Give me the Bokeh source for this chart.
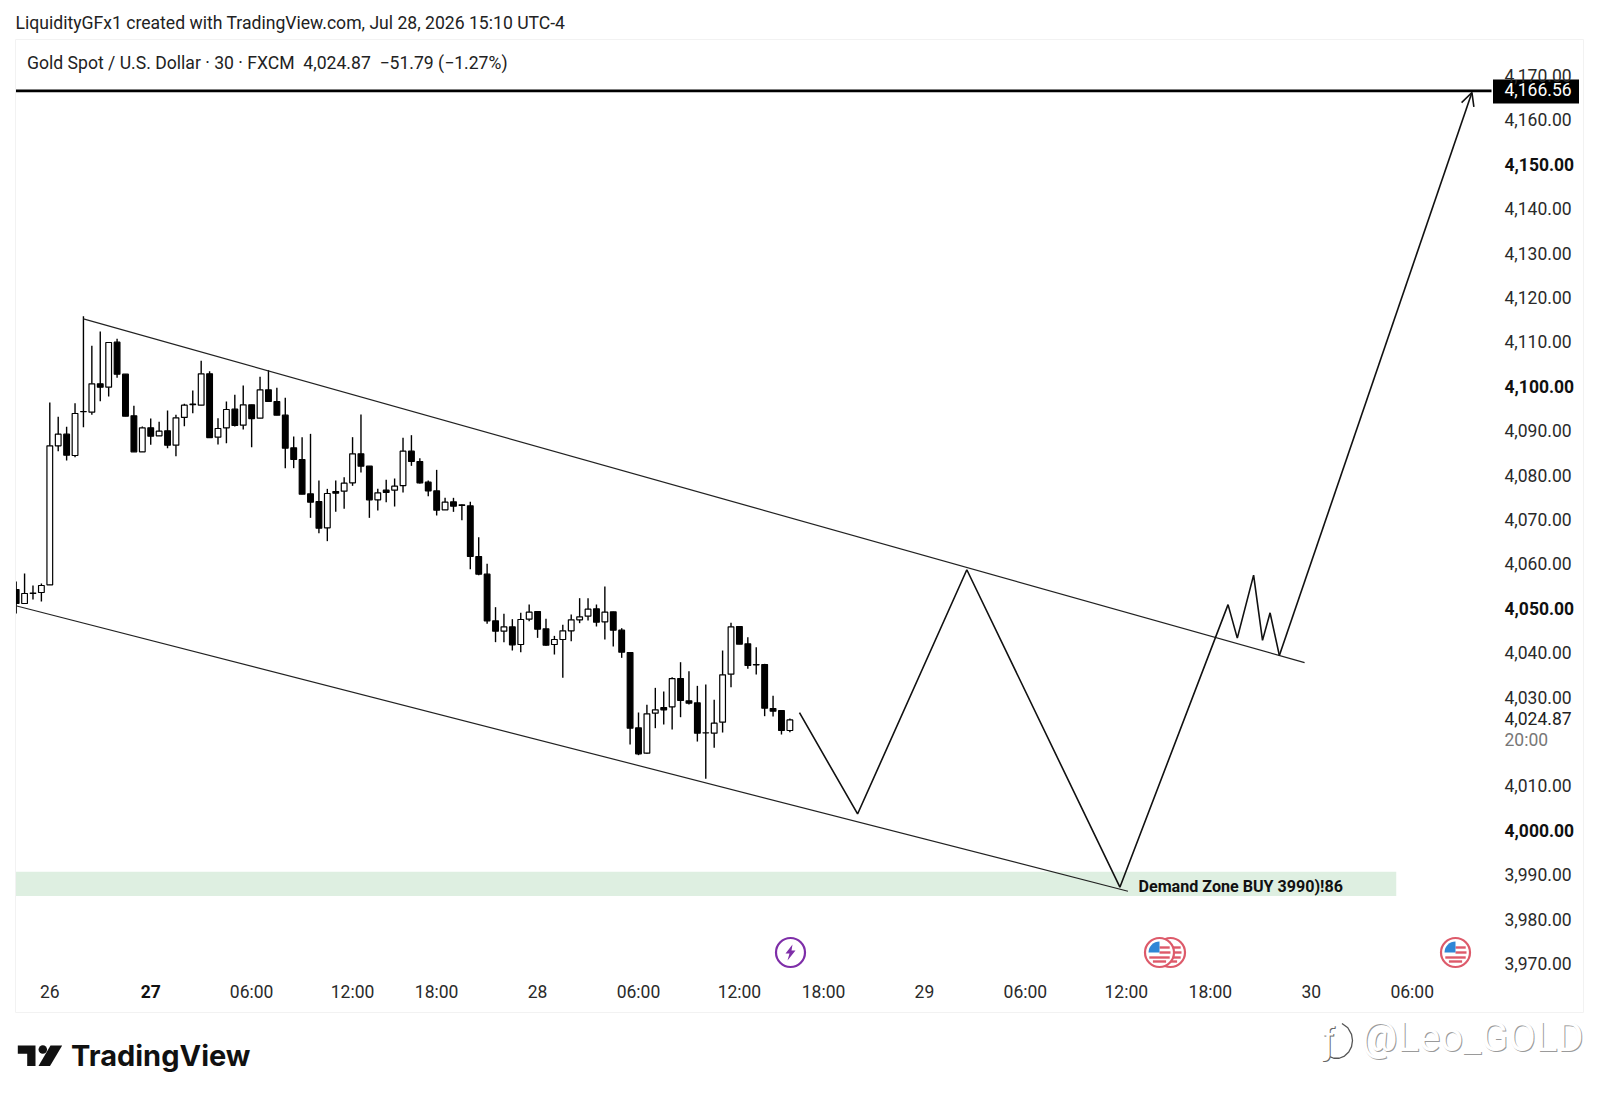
from bokeh.plotting import figure
from bokeh.embed import file_html
from bokeh.resources import INLINE
from bokeh.models import (Range1d, LinearAxis, FixedTicker, NumeralTickFormatter, Label,
                          Arrow, OpenHead, ColumnDataSource)
import math

# ---------- data: 30-minute candles ----------
first_bar = -4
opens = [4054.25,4051.10,4053.38,4053.58,4055.30,4086.61,4089.23,4084.43,4094.30,4094.19,4100.57,4099.82,4109.96,4102.75,4093.37,
         4085.26,4090.66,4088.86,4089.99,4086.76,4093.00,4095.90,4095.77,4102.82,4088.56,4090.66,4094.87,4091.26,4095.84,4092.84,
         4099.22,4096.59,4093.51,4086.16,4083.53,4075.80,4074.07,4068.14,4076.30,4076.40,4078.27,4084.81,4082.03,4074.45,4076.63,
         4076.63,4077.67,4085.41,4083.08,4078.42,4076.47,4072.19,4073.99,4073.30,4073.09,4061.68,4057.70,4047.19,4044.87,4045.84,
         4041.86,4047.57,4049.29,4045.39,4041.86,4042.99,4044.94,4047.42,4048.24,4049.89,4046.97,4049.22,4045.09,4040.06,4023.09,
         4017.39,4026.40,4027.67,4027.82,4034.20,4029.17,4028.72,4021.97,4021.89,4024.37,4035.18,4045.92,4042.01,4037.36,4037.36,
         4027.44,4027.00,4022.49]
closes = [4051.10,4053.35,4053.46,4055.15,4086.61,4089.23,4084.51,4093.89,4094.34,4100.57,4099.82,4109.88,4102.75,4093.29,4085.26,
          4090.66,4088.78,4089.91,4086.76,4092.91,4095.77,4096.00,4102.82,4088.48,4090.51,4094.79,4091.19,4095.84,4092.76,4099.22,
          4096.59,4093.51,4086.08,4083.53,4075.72,4073.92,4068.06,4075.87,4075.95,4078.20,4084.81,4082.03,4074.45,4076.02,4076.10,
          4077.52,4085.41,4083.08,4078.27,4076.47,4072.12,4073.92,4073.02,4073.22,4061.68,4057.70,4047.19,4044.87,4045.84,4041.79,
          4047.49,4049.15,4045.31,4041.71,4042.99,4044.94,4047.42,4048.09,4049.82,4046.89,4049.14,4045.09,4040.13,4023.02,4017.24,
          4026.25,4027.15,4027.15,4034.20,4029.25,4028.65,4021.89,4021.99,4024.14,4035.03,4045.84,4041.94,4037.13,4037.28,4027.52,
          4026.85,4022.49,4024.87]
highs = [4056.05,4057.86,4055.15,4055.60,4096.37,4093.14,4090.89,4096.22,4115.81,4109.13,4112.36,4109.88,4110.71,4102.75,4095.62,
         4090.96,4092.76,4092.01,4094.57,4093.59,4096.07,4099.07,4105.75,4103.42,4092.84,4096.59,4098.09,4100.20,4095.84,4102.15,
         4103.65,4099.67,4097.42,4088.71,4088.56,4089.31,4078.80,4076.92,4078.80,4079.55,4088.56,4093.66,4082.03,4076.92,4078.95,
         4079.25,4088.41,4089.01,4083.83,4078.80,4081.20,4074.90,4074.90,4073.40,4073.99,4066.04,4060.03,4050.27,4048.77,4047.57,
         4048.99,4050.87,4049.29,4047.64,4043.81,4046.29,4048.62,4052.30,4052.30,4050.87,4054.92,4049.22,4045.54,4040.06,4026.55,
         4028.27,4032.10,4031.28,4034.50,4037.88,4035.86,4032.55,4032.85,4029.40,4040.51,4046.74,4045.92,4043.51,4041.26,4037.51,
         4030.30,4027.00,4025.20]
lows = [4048.85,4051.10,4052.00,4051.55,4055.30,4085.41,4083.30,4084.05,4090.81,4093.59,4096.67,4097.72,4101.92,4093.29,4085.26,
        4085.26,4086.83,4088.86,4086.08,4084.28,4091.04,4093.96,4095.77,4088.48,4086.91,4087.21,4090.96,4090.29,4086.31,4092.84,
        4096.59,4093.51,4081.58,4081.58,4075.72,4070.39,4066.94,4065.14,4071.74,4072.42,4077.60,4080.60,4070.39,4072.04,4073.92,
        4072.94,4076.10,4082.10,4078.12,4075.27,4070.92,4072.19,4071.74,4069.87,4058.83,4057.48,4046.52,4042.39,4042.39,4040.51,
        4040.14,4047.12,4043.36,4041.56,4039.61,4034.35,4042.61,4046.67,4047.27,4045.92,4042.99,4041.41,4038.86,4019.34,4016.94,
        4017.24,4023.02,4023.84,4022.72,4025.49,4028.35,4020.01,4011.61,4018.59,4022.04,4032.25,4041.94,4036.38,4035.10,4025.72,
        4025.65,4021.59,4022.10]

upper_channel_bars = [4.0, 149.2]
upper_channel_prices = [4115.2, 4037.8]
lower_channel_bars = [-4.04, 128.2]
lower_channel_prices = [4050.6, 3986.3]
path_bars = [89.14, 96.05, 109.04, 127.24, 140.1, 141.2, 143.14, 144.2, 145.1, 146.2, 169.1]
path_prices = [4026.5, 4003.7, 4058.7, 3987.2, 4050.85, 4043.3, 4057.5, 4042.8, 4049.0, 4039.4, 4166.2]
target_price = 4166.56
zone_top, zone_bottom, zone_end_bar = 3990.7, 3985.2, 160.1
last_price = 4024.87

regular_price_ticks = [4170,4160,4140,4130,4120,4110,4090,4080,4070,4060,4040,4030,4010,3990,3980,3970]
bold_price_ticks = [4150,4100,4050,4000]
regular_time_ticks = {0:"26",24:"06:00",36:"12:00",46:"18:00",58:"28",70:"06:00",82:"12:00",92:"18:00",
                      104:"29",116:"06:00",128:"12:00",138:"18:00",150:"30",162:"06:00"}
bold_time_ticks = {12:"27"}

# ---------- scale calibration: page px <-> data ----------
PX_PER_BAR, BAR0_PX = 8.41, 49.3
PX_PER_USD, USD0_PX = 4.44, 4186.91
def bx(px): return (px - BAR0_PX) / PX_PER_BAR
def pv(py): return USD0_PX - py / PX_PER_USD

FONT = "Roboto"
INK = "#1a1a1a"
W, H = 1584, 1084
p = figure(width=W, height=H, output_backend="svg", toolbar_location=None,
           x_range=Range1d(bx(0), bx(W)), y_range=Range1d(pv(H), pv(0)),
           min_border=0, min_border_left=0, min_border_right=0, min_border_top=0, min_border_bottom=0,
           x_axis_location=None, y_axis_location=None, outline_line_color=None,
           background_fill_color="white", border_fill_color="white")
p.grid.visible = False

# demand zone
p.quad(left=[bx(15)], right=[zone_end_bar], top=[zone_top], bottom=[zone_bottom],
       fill_color="#deefe1", line_color=None)

# candles
bars = list(range(first_bar, first_bar + len(opens)))
wicks = ColumnDataSource(dict(x=bars, h=highs, l=lows))
p.segment("x", "h", "x", "l", source=wicks, line_color="black", line_width=1.4)
up = [i for i in range(len(bars)) if closes[i] >= opens[i]]
dn = [i for i in range(len(bars)) if closes[i] < opens[i]]
for idx, col in ((up, "white"), (dn, "black")):
    p.vbar(x=[bars[i] for i in idx], width=0.68,
           top=[max(opens[i], closes[i]) for i in idx],
           bottom=[min(opens[i], closes[i]) for i in idx],
           fill_color=col, line_color="black", line_width=1.2)

# drawings
p.line(upper_channel_bars, upper_channel_prices, line_color="#222222", line_width=1.2)
p.line(lower_channel_bars, lower_channel_prices, line_color="#222222", line_width=1.2)
p.line(path_bars[:-1], path_prices[:-1], line_color="#111111", line_width=1.6)
p.add_layout(Arrow(end=OpenHead(size=13, line_width=1.6, line_color="#111111"), line_width=1.6, line_color="#111111",
                   x_start=path_bars[-2], y_start=path_prices[-2],
                   x_end=path_bars[-1], y_end=path_prices[-1]))
p.segment([bx(15)], [target_price], [bx(1491)], [target_price], line_color="black", line_width=2.6)

# pane mask + outline
p.quad(left=[bx(0)], right=[bx(15)], top=[pv(0)], bottom=[pv(H)], fill_color="white", line_color=None)
p.quad(left=[bx(15)], right=[bx(1583)], top=[pv(39)], bottom=[pv(1012)], fill_color=None, line_color="#f2f2f2", line_width=1)

# axes placed inside the canvas
def price_axis(ticks, style, color):
    a = LinearAxis(fixed_location=bx(1494), ticker=FixedTicker(ticks=ticks),
                   formatter=NumeralTickFormatter(format="0,0.00"),
                   axis_line_color=None, major_tick_line_color=None, minor_tick_line_color=None,
                   major_label_standoff=4, major_label_text_font=FONT, major_label_text_font_size="17.5px",
                   major_label_text_font_style=style, major_label_text_color=color)
    p.add_layout(a, "right")
def time_axis(labels, style, color, standoff):
    a = LinearAxis(fixed_location=pv(971), ticker=FixedTicker(ticks=list(labels.keys())),
                   major_label_overrides=labels, axis_line_color=None, major_tick_line_color=None,
                   minor_tick_line_color=None, major_label_standoff=standoff, major_label_text_font=FONT,
                   major_label_text_font_size="17.5px", major_label_text_font_style=style,
                   major_label_text_color=color)
    p.add_layout(a, "below")
price_axis(regular_price_ticks, "normal", "#2a2a2a")
price_axis(bold_price_ticks, "bold", "#111111")
time_axis(regular_time_ticks, "normal", "#2a2a2a", 4)
time_axis(bold_time_ticks, "bold", "#111111", 7)

def label(text, px, py, size, color=INK, style="normal", font=FONT, align="left", **kw):
    p.add_layout(Label(x=bx(px), y=pv(py), text=text, text_font=font, text_font_size=f"{size}px",
                       text_color=color, text_font_style=style, text_align=align, text_baseline="middle", **kw))

label("LiquidityGFx1 created with TradingView.com, Jul 28, 2026 15:10 UTC-4", 15, 22.5, 17.6, "#222222")
label("Gold Spot / U.S. Dollar · 30 · FXCM\u00a0\u00a04,024.87\u00a0\u00a0−51.79 (−1.27%)", 26.5, 62, 17.6, "#222222")
label("Demand Zone BUY 3990)!86", 1138, 885.5, 16.1, "#111111", "bold")
label(f"{last_price:,.2f}", 1504, 718, 17.5, "#222222")
label("20:00", 1504, 739, 17.5, "#777777")

# price tag for the horizontal level
p.quad(left=[bx(1492.5)], right=[bx(1578.5)], top=[pv(79)], bottom=[pv(103)], fill_color="black", line_color=None)
label(f"{target_price:,.2f}", 1504, 89, 17.5, "white")

# event icons
def flag(cx, cy):
    x0, y0 = bx(cx), pv(cy)
    p.scatter([x0], [y0], marker="circle", size=29, fill_color="white", line_color="#dd5a6a", line_width=2.2)
    rows = [(-5, 10.2), (0, 11), (5, 10.2), (9, 6.6)]
    for dy, half in rows:
        p.segment([x0 + (0 if dy <= 0 else -half) / PX_PER_BAR], [y0 - dy / PX_PER_USD],
                  [x0 + half / PX_PER_BAR], [y0 - dy / PX_PER_USD], line_color="#dd5a6a", line_width=2.4)
    p.wedge([x0], [y0], radius=11, radius_units="screen", start_angle=math.pi / 2, end_angle=math.pi,
            fill_color="#2f86d6", line_color=None)
flag(1170, 952)
flag(1159, 952)
flag(1455, 952)
p.scatter([bx(790)], [pv(952)], marker="circle", size=29, fill_color="white", line_color="#7e2ea8", line_width=2.2)
bolt_x = [792, 785, 789, 787, 795, 791, 792]
bolt_y = [944, 953, 953, 960, 950, 950, 944]
p.patch([bx(v) for v in bolt_x], [pv(v) for v in bolt_y], fill_color="#7e2ea8", line_color=None)

# TradingView logo
p.patch([bx(v) for v in [17.3, 35, 35, 26.7, 26.7, 17.3]],
        [pv(v) for v in [1045, 1045, 1065.5, 1065.5, 1053.3, 1053.3]], fill_color="#111111", line_color=None)
p.scatter([bx(42.3)], [pv(1049)], marker="circle", size=8.5, fill_color="#111111", line_color=None)
p.patch([bx(v) for v in [50, 61.7, 49.5, 38]], [pv(v) for v in [1045, 1045, 1065.5, 1065.5]],
        fill_color="#111111", line_color=None)
label("TradingView", 70.5, 1055, 29, "#111111", "bold", font="Inter")

# watermark: embossed outline
label("@Leo_GOLD", 1362, 1038, 40, "#9a9a9a")
label("@Leo_GOLD", 1361, 1037, 40, "white")
label("ƒ", 1323, 1041, 36, "#666666")
label("ƒ", 1322, 1040, 36, "white")
arc_angles = [-70, -45, -20, 0, 20, 40, 60, 80, 100, 120]
p.line([bx(1336 + 16 * math.cos(math.radians(t))) for t in arc_angles],
       [pv(1040 + 18 * math.sin(math.radians(t))) for t in arc_angles], line_color="#555555", line_width=1.3)

open("out.html", "w").write(file_html(p, INLINE))
